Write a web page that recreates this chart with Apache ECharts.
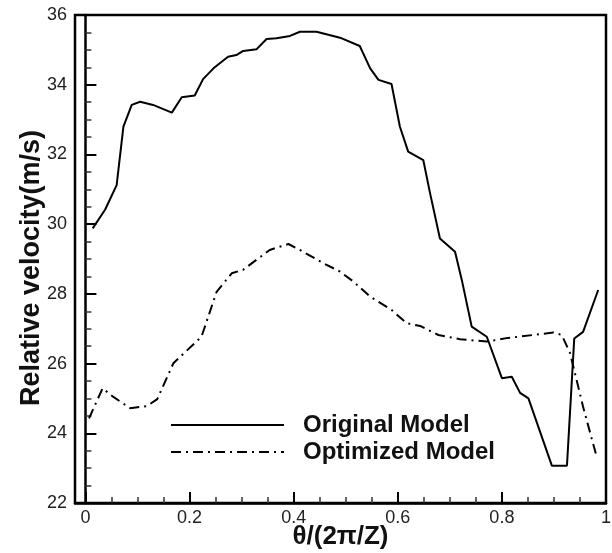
<!DOCTYPE html>
<html>
<head>
<meta charset="utf-8">
<script src="https://cdn.jsdelivr.net/npm/echarts@6/dist/echarts.min.js"></script>
<style>html,body{margin:0;padding:0;background:#fff}#c{width:612px;height:553px}</style>
</head>
<body>
<div id="c"></div>
<script>
const seriesNames = ['Original Model', 'Optimized Model'];
const xOriginal = [0.014, 0.038, 0.060, 0.073, 0.089, 0.105, 0.130, 0.166, 0.185, 0.210, 0.226, 0.246, 0.274, 0.290, 0.303, 0.329, 0.348, 0.367, 0.393, 0.412, 0.444, 0.489, 0.527, 0.547, 0.563, 0.588, 0.604, 0.620, 0.649, 0.662, 0.681, 0.710, 0.723, 0.742, 0.771, 0.800, 0.819, 0.835, 0.851, 0.896, 0.925, 0.939, 0.956, 0.985];
const yOriginal = [29.88, 30.42, 31.12, 32.80, 33.42, 33.51, 33.42, 33.20, 33.64, 33.69, 34.16, 34.47, 34.80, 34.85, 34.97, 35.02, 35.31, 35.33, 35.40, 35.52, 35.52, 35.35, 35.11, 34.47, 34.14, 34.02, 32.80, 32.08, 31.84, 30.89, 29.59, 29.21, 28.40, 27.06, 26.77, 25.58, 25.62, 25.16, 25.00, 23.07, 23.07, 26.72, 26.91, 28.11];
const xOptimized = [0.007, 0.033, 0.053, 0.086, 0.118, 0.138, 0.169, 0.223, 0.252, 0.281, 0.303, 0.354, 0.390, 0.412, 0.457, 0.489, 0.515, 0.547, 0.588, 0.617, 0.643, 0.678, 0.720, 0.771, 0.809, 0.860, 0.899, 0.915, 0.931, 0.956, 0.982];
const yOptimized = [24.43, 25.29, 25.05, 24.72, 24.78, 24.98, 26.01, 26.77, 28.06, 28.59, 28.69, 29.26, 29.43, 29.26, 28.88, 28.64, 28.35, 27.92, 27.54, 27.16, 27.08, 26.82, 26.70, 26.63, 26.73, 26.82, 26.89, 26.82, 26.30, 24.76, 23.33];
const xMajorTicks = [0, 0.2, 0.4, 0.6, 0.8, 1];
const xMinorTicks = [0.05, 0.1, 0.15, 0.25, 0.3, 0.35, 0.45, 0.5, 0.55, 0.65, 0.7, 0.75, 0.85, 0.9, 0.95];
const yTicks = [22, 24, 26, 28, 30, 32, 34, 36];
const xTitle = 'θ/(2π/Z)';
const yTitle = 'Relative velocity(m/s)';

const FONT = '"Liberation Sans", Arial, Helvetica, sans-serif';
const pairs = (xs, ys) => xs.map((x, i) => [x, ys[i]]);

const chart = echarts.init(document.getElementById('c'), null, {renderer: 'canvas'});
const axisLine = {show: true, lineStyle: {color: '#000', width: 2.5}};
chart.setOption({
  animation: false,
  backgroundColor: '#fff',
  grid: {left: 75, right: 6, top: 15, bottom: 50, show: true, borderColor: '#000', borderWidth: 2.5, containLabel: false, outerBoundsMode: 'none'},
  legend: {
    orient: 'vertical', left: 170, top: 413, padding: 0, itemWidth: 113, itemHeight: 14, itemGap: 3,
    data: seriesNames,
    itemStyle: {opacity: 0},
    textStyle: {fontFamily: FONT, fontSize: 24, fontWeight: 'bold', color: '#111', lineHeight: 24, padding: [0, 0, 0, 14]}
  },
  xAxis: [{
    type: 'value', min: -0.02, max: 1, position: 'bottom',
    name: xTitle, nameLocation: 'middle', nameGap: 21, nameMoveOverlap: false,
    nameTextStyle: {fontFamily: FONT, fontSize: 26, fontWeight: 'bold', color: '#111', verticalAlign: 'top'},
    axisLine: axisLine,
    axisTick: {show: true, inside: true, length: 11, customValues: xMajorTicks, lineStyle: {color: '#000', width: 2}},
    axisLabel: {show: true, customValues: xMajorTicks, margin: 6, fontFamily: FONT, fontSize: 18, color: '#222', formatter: v => String(+v.toFixed(2))},
    splitLine: {show: false}
  }, {
    type: 'value', min: -0.02, max: 1, position: 'bottom', offset: 0,
    axisLine: {show: false},
    axisTick: {show: true, inside: true, length: 6, customValues: xMinorTicks, lineStyle: {color: '#333', width: 1.5}},
    axisLabel: {show: false},
    splitLine: {show: false}
  }],
  yAxis: {
    type: 'value', min: 22, max: 36, interval: 2,
    name: yTitle, nameLocation: 'middle', nameGap: 30, nameRotate: 90, nameMoveOverlap: false,
    nameTextStyle: {fontFamily: FONT, fontSize: 27, fontWeight: 'bold', color: '#111', padding: [0, 18, 0, 0]},
    axisLine: axisLine,
    axisTick: {show: true, inside: true, length: 11, lineStyle: {color: '#000', width: 2}},
    minorTick: {show: true, splitNumber: 4, length: 6, lineStyle: {color: '#333', width: 1.5}},
    axisLabel: {margin: 8, fontFamily: FONT, fontSize: 18, color: '#222'},
    splitLine: {show: false}
  },
  series: [{
    name: seriesNames[0], type: 'line', xAxisIndex: 0, symbol: 'none',
    data: pairs(xOriginal, yOriginal),
    lineStyle: {color: '#000', width: 2, type: 'solid'}, itemStyle: {color: '#000'}
  }, {
    name: seriesNames[1], type: 'line', xAxisIndex: 0, symbol: 'none',
    data: pairs(xOptimized, yOptimized),
    lineStyle: {color: '#000', width: 2, type: [10, 5, 2, 5]}, itemStyle: {color: '#000'}
  }]
});
</script>
</body>
</html>
